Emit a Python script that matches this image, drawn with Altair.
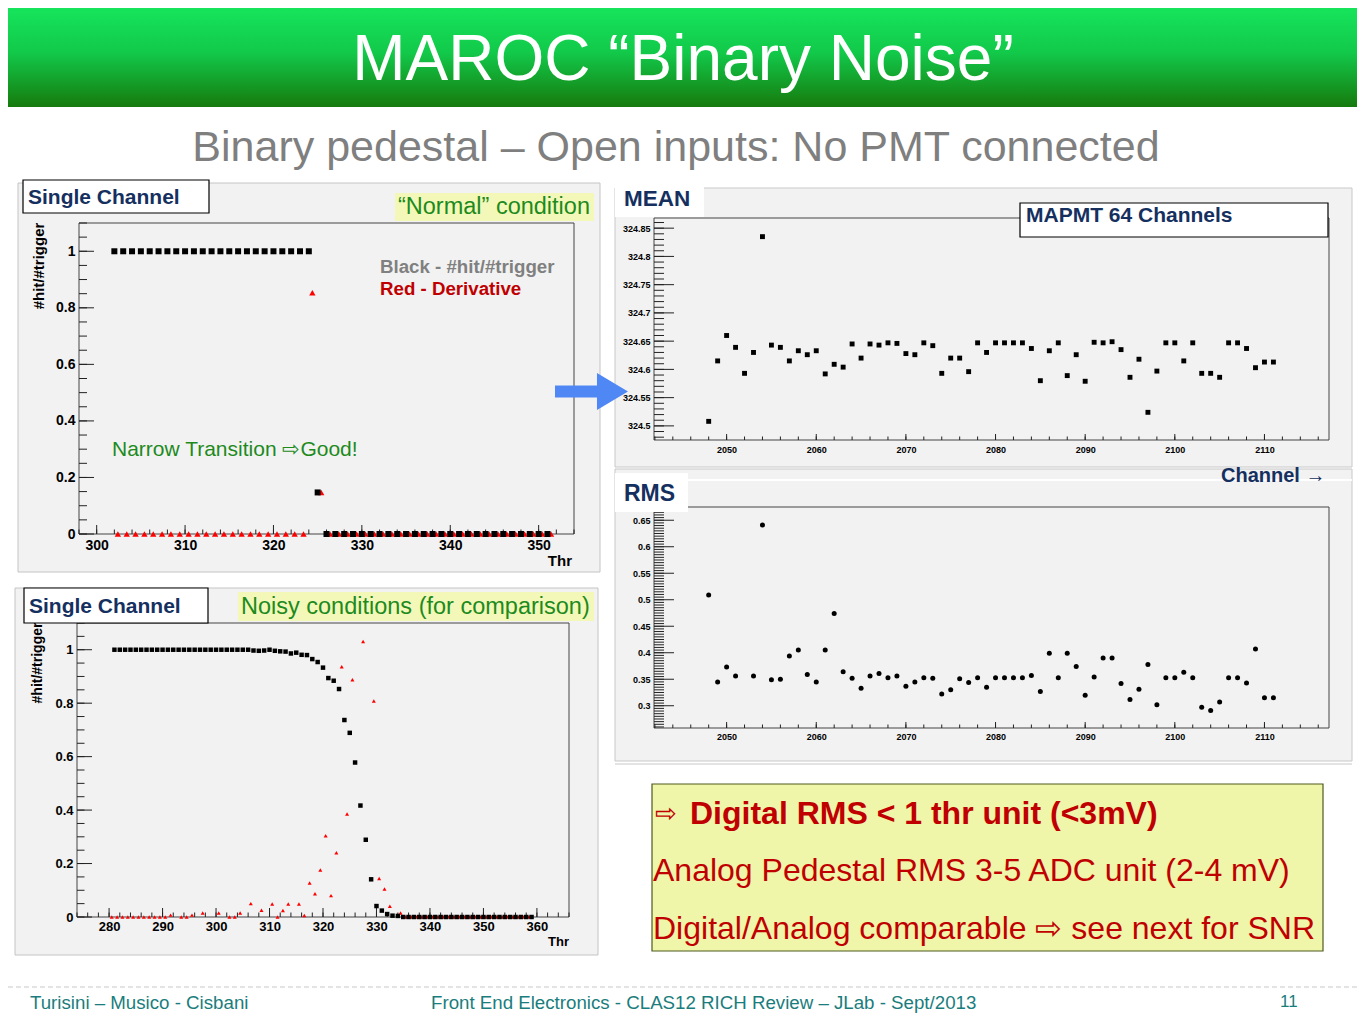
import altair as alt
import pandas as pd
import numpy as np

# ---------------- data ----------------
normal_thr = list(range(302, 352))
normal_hit = [1, 1, 1, 1, 1, 1, 1, 1, 1, 1, 1, 1, 1, 1, 1, 1, 1, 1, 1, 1, 1, 1, 1,
              0.147,
              0, 0, 0, 0, 0, 0, 0, 0, 0, 0, 0, 0, 0, 0, 0, 0, 0, 0, 0, 0, 0, 0, 0, 0, 0, 0]
normal_der_thr = [t + 0.4 for t in range(302, 352)]
normal_der = [0, 0, 0, 0, 0, 0, 0, 0, 0, 0, 0, 0, 0, 0, 0, 0, 0, 0, 0, 0, 0, 0,
              0.853, 0.147,
              0, 0, 0, 0, 0, 0, 0, 0, 0, 0, 0, 0, 0, 0, 0, 0, 0, 0, 0, 0, 0, 0, 0, 0, 0, 0]

noisy_thr = list(range(281, 360))
noisy_hit = [1, 1, 1, 1, 1, 1, 1, 1, 1, 1, 1, 1, 1, 1, 1, 1, 1, 1, 1, 1, 1, 1, 1, 1, 1, 1,
             0.997, 0.996, 0.997, 1.0, 0.996, 0.994, 0.993, 0.986, 0.989, 0.981,
             0.980, 0.965, 0.954, 0.933, 0.894, 0.884, 0.853, 0.737, 0.689, 0.578,
             0.417, 0.289, 0.141, 0.041, 0.024, 0.011, 0.005, 0.004,
             0, 0, 0, 0, 0, 0, 0, 0, 0, 0, 0, 0, 0, 0, 0, 0, 0, 0, 0, 0, 0, 0, 0, 0, 0]
noisy_der_thr = [280.5, 281.5, 282.5, 283.5, 284.5, 285.5, 286.5, 287.5, 288.5, 289.5,
                 290.5, 291.5, 293.5, 294.5, 295.5, 297.5, 300.5, 302.5, 303.5, 304.5,
                 306.5, 308.5, 310.5, 311.5, 312.5, 313.5, 315.5, 316.5, 317.5, 318.5,
                 319.5, 320.5, 321.5, 322.5, 323.5, 324.5, 325.5, 327.5, 329.5, 330.5,
                 331.5, 332.5, 334.5,
                 335.5, 336.5, 337.5, 338.5, 339.5, 340.5, 341.5, 342.5, 343.5, 344.5,
                 345.5, 346.5, 347.5, 348.5, 349.5, 350.5, 351.5, 352.5, 353.5, 354.5,
                 355.5, 356.5, 357.5, 358.5]
noisy_der = [0, 0, 0, 0, 0, 0, 0, 0, 0, 0,
             0, 0.007, 0, 0, 0.007, 0.015, 0.015, 0, 0, 0.015,
             0.050, 0.025, 0.049, 0, 0.024, 0.049, 0.049, 0.006, 0.127, 0.087,
             0.176, 0.304, 0.080, 0.240, 0.936, 0.385, 0.888, 1.031, 0.808, 0.144,
             0.105, 0.040, 0.015,
             0, 0, 0, 0, 0, 0, 0, 0, 0, 0, 0, 0, 0, 0, 0, 0, 0, 0, 0, 0, 0, 0, 0, 0]

mean_ch = list(range(2048, 2112))
mean_val = [324.508, 324.615, 324.660, 324.639, 324.593, 324.630, 324.835, 324.643, 324.639, 324.615,
            324.633, 324.626, 324.633, 324.592, 324.609, 324.604, 324.645, 324.620, 324.645, 324.643,
            324.647, 324.646, 324.628, 324.626, 324.647, 324.642, 324.593, 324.620, 324.620, 324.596,
            324.647, 324.630, 324.647, 324.647, 324.647, 324.647, 324.637, 324.580, 324.633, 324.647,
            324.589, 324.626, 324.579, 324.648, 324.647, 324.649, 324.635, 324.586, 324.618, 324.524,
            324.597, 324.647, 324.647, 324.615, 324.647, 324.593, 324.593, 324.586, 324.647, 324.647,
            324.637, 324.603, 324.613, 324.613]

rms_ch = [c for c in range(2048, 2112) if c != 2052]
rms_val = [0.509, 0.345, 0.373, 0.356, 0.356, 0.641, 0.349, 0.350, 0.394, 0.405,
           0.359, 0.345, 0.405, 0.474, 0.364, 0.352, 0.333, 0.356, 0.361, 0.353,
           0.356, 0.337, 0.345, 0.353, 0.352, 0.322, 0.330, 0.351, 0.344, 0.353,
           0.335, 0.353, 0.353, 0.353, 0.353, 0.357, 0.327, 0.399, 0.353, 0.399,
           0.374, 0.320, 0.354, 0.390, 0.390, 0.342, 0.312, 0.331, 0.378, 0.302,
           0.353, 0.353, 0.363, 0.353, 0.297, 0.291, 0.307, 0.353, 0.353, 0.343,
           0.407, 0.315, 0.315]

# ---------------- layout helpers ----------------
W, H = 1349, 1008
M = 8
FONT = "Liberation Sans"
NAVY = "#15305f"
GREEN = "#1d8a1d"
DRED = "#c00000"
one = pd.DataFrame({"k": [0]})


def px(v):
    return v - M


def txt(x, y, s, size, color="black", weight="normal", align="left", angle=0,
        baseline="alphabetic", font=FONT):
    kw = dict(fontSize=size, color=color, fontWeight=weight, align=align,
              baseline=baseline, font=font)
    if angle:
        kw["angle"] = angle
    return alt.Chart(one).mark_text(**kw).encode(
        x=alt.value(px(x)), y=alt.value(px(y)), text=alt.value(s))


def box(x0, y0, x1, y1, fill, stroke=None, sw=1.0):
    kw = dict(fill=fill, opacity=1)
    if stroke:
        kw.update(stroke=stroke, strokeWidth=sw)
    else:
        kw.update(strokeWidth=0)
    return alt.Chart(one).mark_rect(**kw).encode(
        x=alt.value(px(x0)), x2=alt.value(px(x1)),
        y=alt.value(px(y0)), y2=alt.value(px(y1)))


def hline(x0, x1, y, color, sw=1.0, dash=None):
    kw = dict(color=color, strokeWidth=sw)
    if dash:
        kw["strokeDash"] = dash
    return alt.Chart(one).mark_rule(**kw).encode(
        x=alt.value(px(x0)), x2=alt.value(px(x1)), y=alt.value(px(y)))


def root_plot(xdom, ydom, frame, xlabs, ylabs, xfmt, yfmt, xmaj, xmin_, ymaj, ymin_,
              xlen, ylen, labsize, xpad, ypad, series):
    fx0, fx1, fy0, fy1 = frame
    xs = alt.Scale(domain=list(xdom), range=[px(fx0), px(fx1)], nice=False, zero=False)
    ys = alt.Scale(domain=list(ydom), range=[px(fy1), px(fy0)], nice=False, zero=False)
    common = dict(ticks=False, tickSize=0, domain=False, grid=False, labelFont=FONT,
                  labelFontWeight="bold", labelFontSize=labsize, labelColor="black",
                  labelFlush=False, labelOverlap=False, title=None, zindex=1)
    ax = alt.Axis(orient="bottom", offset=px(fy1) - H, values=xlabs, format=xfmt,
                  labelPadding=xpad, **common)
    ay = alt.Axis(orient="left", offset=-px(fx0), values=ylabs, format=yfmt,
                  labelPadding=ypad, **common)

    def X(f):
        return alt.X(f, type="quantitative", scale=xs, axis=ax)

    def Y(f):
        return alt.Y(f, type="quantitative", scale=ys, axis=ay)

    xppu = (fx1 - fx0) / (xdom[1] - xdom[0])
    yppu = (fy1 - fy0) / (ydom[1] - ydom[0])
    fdf = pd.DataFrame({"a": [xdom[0]], "b": [xdom[1]], "c": [ydom[0]], "d": [ydom[1]]})
    fr = alt.Chart(fdf).mark_rect(fill="#f2f2f2", fillOpacity=0, stroke="#444",
                                  strokeWidth=1).encode(
        x=X("a"), x2=alt.X2("b"), y=Y("c"), y2=alt.Y2("d"))
    yt = pd.DataFrame({
        "v": list(ymaj) + list(ymin_),
        "a": [xdom[0]] * (len(ymaj) + len(ymin_)),
        "b": [xdom[0] + ylen[0] / xppu] * len(ymaj) + [xdom[0] + ylen[1] / xppu] * len(ymin_)})
    ytl = alt.Chart(yt).mark_rule(color="#222", strokeWidth=1).encode(
        y=Y("v"), x=X("a"), x2=alt.X2("b"))
    xt = pd.DataFrame({
        "v": list(xmaj) + list(xmin_),
        "a": [ydom[0]] * (len(xmaj) + len(xmin_)),
        "b": [ydom[0] + xlen[0] / yppu] * len(xmaj) + [ydom[0] + xlen[1] / yppu] * len(xmin_)})
    xtl = alt.Chart(xt).mark_rule(color="#222", strokeWidth=1).encode(
        x=X("v"), y=Y("a"), y2=alt.Y2("b"))
    layers = [fr, ytl, xtl]
    for (xv, yv, shape, size, color) in series:
        d = pd.DataFrame({"x": xv, "y": yv})
        layers.append(alt.Chart(d).mark_point(shape=shape, size=size, filled=True,
                                              color=color, opacity=1, strokeWidth=0)
                      .encode(x=X("x"), y=Y("y")))
    return alt.layer(*layers)


def rng(a, b, s):
    return [round(v, 4) for v in np.arange(a, b + s / 2, s)]


# ---------------- plots ----------------
p1 = root_plot((298, 354), (0, 1.1), (79, 574, 223, 534),
               rng(300, 350, 10), rng(0, 1, 0.2), "d", ".1~f",
               rng(300, 350, 10), rng(298, 354, 2), rng(0, 1, 0.2), rng(0, 1.1, 0.05),
               (9, 4.5), (15, 8), 14, 4, 4,
               [(normal_der_thr, normal_der, "triangle-up", 40, "#ff0000"),
                (normal_thr, normal_hit, "square", 36, "black")])

p2 = root_plot((274, 366), (0, 1.1), (77, 569, 623, 917),
               rng(280, 360, 10), rng(0, 1, 0.2), "d", ".1~f",
               rng(280, 360, 10), rng(274, 366, 2), rng(0, 1, 0.2), rng(0, 1.1, 0.05),
               (9, 4.5), (15, 7.5), 13, 3, 4,
               [(noisy_der_thr, noisy_der, "triangle-up", 16, "#ff0000"),
                (noisy_thr, noisy_hit, "square", 20, "black")])

p3 = root_plot((2041.9, 2117.2), (324.475, 324.868), (654, 1329, 218, 440),
               rng(2050, 2110, 10), rng(324.5, 324.85, 0.05), "d", ".2~f",
               rng(2050, 2110, 10), rng(2042, 2116, 2), rng(324.5, 324.85, 0.05),
               rng(324.48, 324.86, 0.01),
               (6, 3.5), (20, 10), 9, 5, 4,
               [(mean_ch, mean_val, "square", 24, "black")])

p4 = root_plot((2041.9, 2117.2), (0.258, 0.675), (654, 1329, 507, 728),
               rng(2050, 2110, 10), rng(0.3, 0.65, 0.05), "d", ".2~f",
               rng(2050, 2110, 10), rng(2042, 2116, 2), rng(0.3, 0.65, 0.05),
               rng(0.26, 0.675, 0.005),
               (6, 3.5), (20, 10), 9, 4, 4,
               [(rms_ch, rms_val, "circle", 25, "black")])

# ---------------- decoration ----------------
grad = alt.Gradient(gradient="linear", x1=0, x2=0, y1=0, y2=1,
                    stops=[alt.GradientStop(offset=0, color="#16e45b"),
                           alt.GradientStop(offset=0.45, color="#12c94a"),
                           alt.GradientStop(offset=1, color="#167a0d")])
header = alt.Chart(one).mark_rect(fill=grad, strokeWidth=0).encode(
    x=alt.value(0), x2=alt.value(W), y=alt.value(0), y2=alt.value(px(107)))

arrow = alt.Chart(one).mark_point(
    shape="M-1,-0.164L0.15,-0.164L0.15,-0.507L1,0L0.15,0.507L0.15,0.164L-1,0.164Z",
    size=73 * 73, filled=True, color="#4f87f5", opacity=1, strokeWidth=0).encode(
    x=alt.value(px(591.5)), y=alt.value(px(391.5)))

bg = [
    header,
    txt(683, 80, "MAROC \u201cBinary Noise\u201d", 64, color="white", align="center"),
    txt(676, 161, "Binary pedestal \u2013 Open inputs: No PMT connected", 43,
        color="#7f7f7f", align="center"),
    box(18, 183, 600, 572, "#f2f2f2", stroke="#c4c4c4"),
    box(15, 588, 598, 955, "#f2f2f2", stroke="#c4c4c4"),
    box(615, 188, 1352, 467, "#f2f2f2", stroke="#c8c8c8"),
    box(615, 469, 1352, 761, "#f2f2f2", stroke="#c8c8c8"),
    hline(688, 1352, 480, "white", 2),
    hline(615, 1352, 764, "#c8c8c8", 1),
]

fg = [
    # top-left annotations
    box(23, 180, 209, 213, "white", stroke="black", sw=1.2),
    txt(28, 204, "Single Channel", 21, color=NAVY, weight="bold"),
    box(395, 193, 594, 221, "#f3f8b8"),
    txt(398, 214, "\u201cNormal\u201d condition", 23.5, color=GREEN),
    txt(380, 273, "Black - #hit/#trigger", 18.7, color="#808080", weight="bold"),
    txt(380, 295, "Red - Derivative", 18.7, color=DRED, weight="bold"),
    txt(112, 456, "Narrow Transition \u21e8Good!", 21, color=GREEN),
    txt(39, 266, "#hit/#trigger", 15, weight="bold", align="center", angle=270,
        baseline="middle"),
    txt(572, 566, "Thr", 15, weight="bold", align="right"),
    # bottom-left annotations
    txt(38, 663, "#hit/#trigger", 14, weight="bold", align="center", angle=270,
        baseline="middle"),
    txt(569, 946, "Thr", 13, weight="bold", align="right"),
    box(24, 588, 208, 623, "white", stroke="black", sw=1.2),
    txt(29, 613, "Single Channel", 21, color=NAVY, weight="bold"),
    box(238, 592, 594, 621, "#f3f8b8"),
    txt(241, 614, "Noisy conditions (for comparison)", 23.5, color=GREEN),
    arrow,
    # right panels
    box(615, 185, 704, 217, "white"),
    txt(624, 206, "MEAN", 22.5, color=NAVY, weight="bold"),
    box(1020, 203, 1328, 237, "white", stroke="black", sw=1.2),
    txt(1026, 222, "MAPMT 64 Channels", 21, color=NAVY, weight="bold"),
    txt(1221, 482, "Channel \u2192", 20, color=NAVY, weight="bold"),
    box(615, 473, 688, 512, "white"),
    txt(624, 501, "RMS", 23, color=NAVY, weight="bold"),
    # conclusion box
    box(652, 784, 1323, 951, "#eff5a9", stroke="#4e5b1e", sw=1.2),
    txt(655, 822, "\u21e8", 26, color=DRED),
    txt(690, 824, "Digital RMS < 1 thr unit (<3mV)", 32, color=DRED, weight="bold"),
    txt(653, 881, "Analog Pedestal RMS 3-5 ADC unit (2-4 mV)", 32, color=DRED),
    txt(653, 939, "Digital/Analog comparable \u21e8 see next for SNR", 32, color=DRED),
    # footer
    hline(8, 1357, 987, "#c8c8c8", 1, dash=[5, 3]),
    txt(30, 1009, "Turisini \u2013 Musico - Cisbani", 18.7, color="#1a7d7d"),
    txt(431, 1009, "Front End Electronics - CLAS12 RICH Review \u2013 JLab - Sept/2013", 18.7,
        color="#1a7d7d"),
    txt(1280, 1007, "11", 17, color="#1a7d7d"),
]

chart = alt.layer(*bg, p1, p2, p3, p4, *fg).resolve_scale(
    x="independent", y="independent").resolve_axis(
    x="independent", y="independent").properties(
    width=W, height=H, autosize=alt.AutoSizeParams(type="none"), padding=0,
    background="white").configure_view(strokeWidth=0)

chart.save("out.html", embed_options={"renderer": "svg", "actions": False})
